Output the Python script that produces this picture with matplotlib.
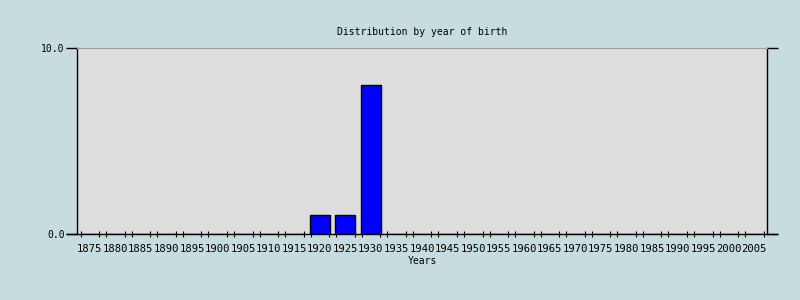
import numpy as np
import matplotlib
matplotlib.use('Agg')
import matplotlib.pyplot as plt

# data
years = [str(y) for y in range(1875, 2010, 5)]
counts = [0, 0, 0, 0, 0, 0, 0, 0, 0, 1, 1, 8, 0, 0, 0, 0, 0, 0, 0, 0, 0, 0, 0, 0, 0, 0, 0]
y_ticks = [0, 10]
y_ticklabels = ['0.0', '10.0']

bg = '#c6dcde'
mono = 'DejaVu Sans Mono'

fig = plt.figure(figsize=(8, 3), dpi=100, facecolor=bg)
ax = fig.add_axes([77 / 800, 66 / 300, 690 / 800, 186 / 300])
ax.set_facecolor('#dddddd')

x = np.arange(len(years))
ax.bar(x, counts, width=0.78, color='#0000ff', edgecolor='black', linewidth=1, zorder=3)

ax.set_xlim(-0.5, len(years) - 0.5)
ax.set_ylim(0, 10)

# x axis: labels at category centres, small ticks near the edges
ax.set_xticks(x)
ax.set_xticklabels(years, fontsize=7.6, family=mono)
ax.tick_params(axis='x', which='major', length=0, pad=7)
ax.set_xticks(np.concatenate([x - 0.355, x + 0.37]), minor=True)
ax.tick_params(axis='x', which='minor', length=5, direction='inout', width=0.8)

# y axis
ax.set_yticks(y_ticks)
ax.set_yticklabels(y_ticklabels, fontsize=7, family=mono)
ax.tick_params(axis='y', length=8, direction='out', width=1, pad=1,
               right=True, labelright=False)

for s in ['left', 'right', 'bottom']:
    ax.spines[s].set_color('black')
    ax.spines[s].set_linewidth(1)
ax.spines['top'].set_color('#a0a0a0')
ax.spines['bottom'].set_bounds(-0.9, len(years) - 0.5 + 0.4)

fig.text(0.5275, 1 - 32 / 300, 'Distribution by year of birth', ha='center', va='center',
         fontsize=7, family=mono)
fig.text(422 / 800, 1 - 261 / 300, 'Years', ha='center', va='center',
         fontsize=7, family=mono)

fig.savefig('out.png', dpi=100, facecolor=bg)
